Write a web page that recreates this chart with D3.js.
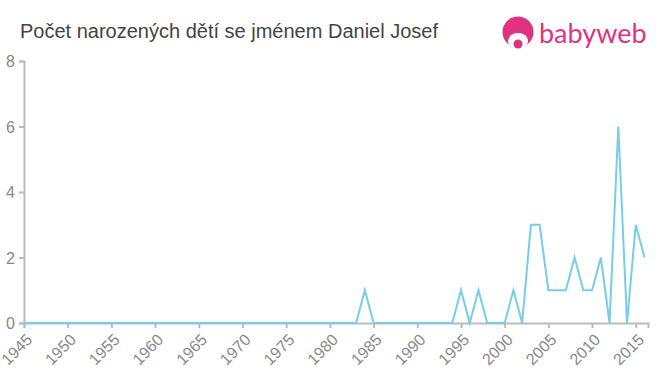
<!DOCTYPE html>
<html>
<head>
<meta charset="utf-8">
<script src="https://cdn.jsdelivr.net/npm/d3@7"></script>
<style>
  body { margin: 0; background: #fff; font-family: "Liberation Sans", Arial, sans-serif; }
  svg text { font-family: "Liberation Sans", Arial, sans-serif; }
</style>
</head>
<body>
<div class="chart"></div>
<script>
// chart data
var years = d3.range(1945, 2017);
var nonZero = {1984: 1, 1995: 1, 1997: 1, 2001: 1, 2003: 3, 2004: 3, 2005: 1, 2006: 1, 2007: 1,
  2008: 2, 2009: 1, 2010: 1, 2011: 2, 2012: 0, 2013: 6, 2014: 0, 2015: 3, 2016: 2};
var counts = years.map(y => nonZero[y] || 0);
var xTicks = [1945, 1950, 1955, 1960, 1965, 1970, 1975, 1980, 1985, 1990, 1995, 2000, 2005, 2010, 2015];
var yTicks = [0, 2, 4, 6, 8];

var svgWidth = 660;
var svgHeight = 375;
var margin = { top: 61, right: 12, bottom: 52, left: 24 };
var width = svgWidth - margin.left - margin.right;
var height = svgHeight - margin.top - margin.bottom;

var svg = d3.select(".chart")
  .append("svg")
  .attr("width", svgWidth)
  .attr("height", svgHeight);

// title
svg.append("text")
  .attr("x", 20)
  .attr("y", 38)
  .attr("fill", "#444")
  .style("font-size", "20px")
  .text("Počet narozených dětí se jménem Daniel Josef");

// logo
var logo = svg.append("g");
logo.append("circle")
  .attr("cx", 518).attr("cy", 32).attr("r", 15.5)
  .attr("fill", "#e0337f");
logo.append("ellipse")
  .attr("cx", 518).attr("cy", 41).attr("rx", 10).attr("ry", 8)
  .attr("fill", "#fff");
logo.append("circle")
  .attr("cx", 518).attr("cy", 44).attr("r", 4.5)
  .attr("fill", "#e0337f");
logo.append("text")
  .attr("x", 539)
  .attr("y", 43)
  .attr("fill", "#e0337f")
  .style("font-size", "27px")
  .style("font-family", "Lato, 'Open Sans', sans-serif")
  .text("babyweb");

var chartGroup = svg.append("g")
  .attr("transform", `translate(${margin.left}, ${margin.top})`);

var xScale = d3.scaleLinear()
  .domain([1945, 2016.4])
  .range([0, width]);

var yScale = d3.scaleLinear()
  .domain([0, 8])
  .range([height, 0]);

var bottomAxis = d3.axisBottom(xScale).tickValues(xTicks).tickFormat(d3.format("d")).tickSizeOuter(0).tickSize(5);
var leftAxis = d3.axisLeft(yScale).tickValues(yTicks).tickSizeOuter(0).tickSize(5);

var xAxis = chartGroup.append("g")
  .attr("transform", `translate(0, ${height})`)
  .call(bottomAxis);

xAxis.selectAll("text")
  .attr("fill", "#888")
  .style("font-size", "16px")
  .attr("text-anchor", "end")
  .attr("x", 0)
  .attr("y", 0)
  .attr("dy", 0)
  .attr("transform", "translate(1, 10) rotate(-45) translate(0, 11)");

var yAxis = chartGroup.append("g").call(leftAxis);
yAxis.selectAll("text")
  .attr("fill", "#888")
  .style("font-size", "16px")
  .attr("x", -9)
  .attr("dy", "0.35em");

chartGroup.selectAll(".domain, .tick line")
  .attr("stroke", "#bbb")
  .attr("stroke-width", 2);

// line
var line = d3.line()
  .x((d, i) => xScale(years[i]))
  .y(d => yScale(d));

chartGroup.append("path")
  .datum(counts)
  .attr("fill", "none")
  .attr("stroke", "#78cde8")
  .attr("stroke-width", 2)
  .attr("d", line);
</script>
</body>
</html>
